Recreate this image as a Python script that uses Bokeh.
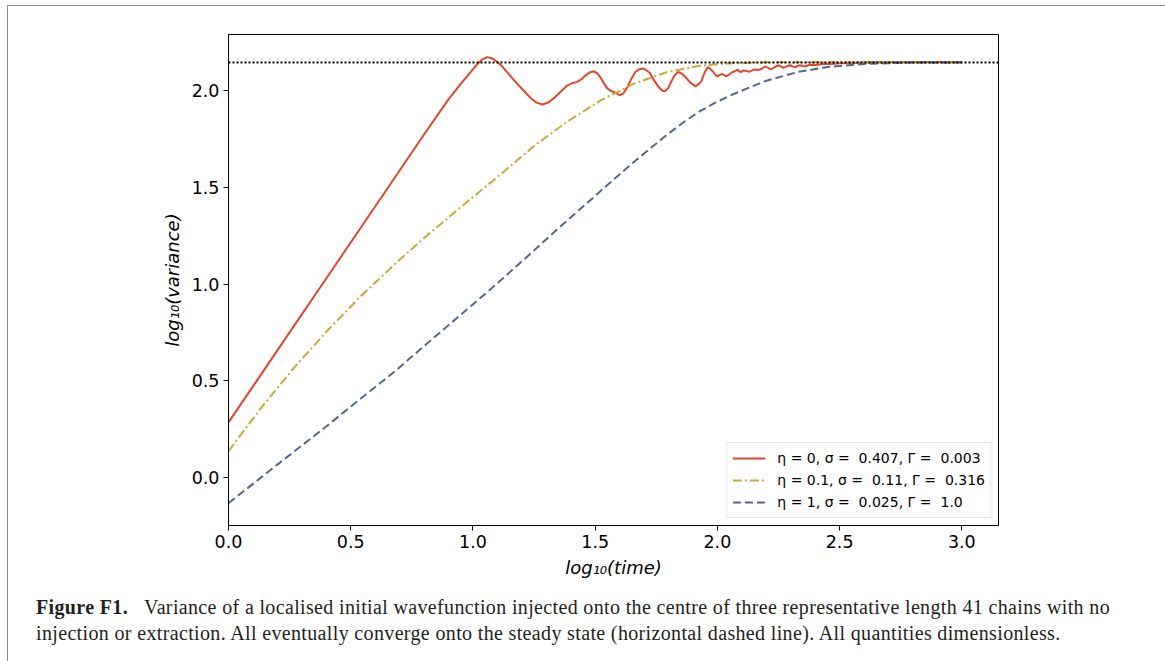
from bokeh.plotting import figure
from bokeh.models import Span, Legend, LegendItem, FixedTicker, PrintfTickFormatter, Div, Range1d
from bokeh.layouts import column
from bokeh.embed import file_html
from bokeh.resources import INLINE

# ---------------- data ----------------
red_x = [0.00, 0.10, 0.20, 0.30, 0.40, 0.50, 0.60, 0.70, 0.80, 0.90, 0.95, 0.98, 1.00, 1.02,
         1.04, 1.06, 1.08, 1.10, 1.116, 1.15, 1.184, 1.215, 1.238, 1.26, 1.285, 1.31, 1.332,
         1.36, 1.386, 1.41,
         1.427, 1.445, 1.461, 1.478, 1.494, 1.508, 1.521, 1.535, 1.548, 1.562, 1.576, 1.60,
         1.615, 1.63, 1.647, 1.664, 1.68, 1.697, 1.71, 1.724, 1.74, 1.758, 1.772, 1.785, 1.80,
         1.812, 1.825, 1.839, 1.855, 1.873, 1.89, 1.911, 1.925, 1.934, 1.947, 1.961, 1.971,
         1.981, 1.991, 2.001, 2.011, 2.021, 2.030, 2.038, 2.050, 2.062, 2.072, 2.082, 2.089,
         2.096, 2.106, 2.116, 2.126, 2.136, 2.147, 2.157, 2.167, 2.177, 2.187, 2.197, 2.208,
         2.218, 2.235, 2.251, 2.261, 2.271, 2.285, 2.298, 2.309, 2.319, 2.329, 2.339, 2.349,
         2.359, 2.38, 2.40, 2.43, 2.46, 2.50, 2.55, 2.60, 2.70, 2.80, 3.00]
red_y = [0.285, 0.471, 0.657, 0.843, 1.029, 1.215, 1.401, 1.587, 1.773, 1.955, 2.035, 2.080,
         2.110, 2.140, 2.163, 2.173, 2.166, 2.148, 2.130, 2.080, 2.031, 1.990, 1.959, 1.938,
         1.928, 1.940, 1.962, 1.995, 2.027, 2.040,
         2.045, 2.060, 2.079, 2.094, 2.100, 2.090, 2.069, 2.040, 2.014,
         2.000, 1.993, 1.976, 1.985, 2.014, 2.058, 2.096, 2.110, 2.114, 2.105, 2.091, 2.055,
         2.022, 2.002, 1.996, 2.015, 2.048, 2.078, 2.096, 2.088, 2.065, 2.040, 2.022, 2.035,
         2.048, 2.091, 2.122, 2.112, 2.100, 2.082, 2.074, 2.082, 2.086, 2.078, 2.074, 2.086,
         2.096, 2.100, 2.109, 2.100, 2.096, 2.104, 2.103, 2.098, 2.100, 2.108, 2.109, 2.106,
         2.110, 2.118, 2.126, 2.117, 2.109, 2.122, 2.131, 2.124, 2.117, 2.126, 2.131, 2.124,
         2.122, 2.128, 2.131, 2.127, 2.126, 2.134, 2.132, 2.138, 2.137, 2.142, 2.143, 2.145,
         2.146, 2.146, 2.146]

yellow_x = [0.0, 0.135, 0.27, 0.405, 0.54, 0.676, 0.811, 0.946, 1.031, 1.116, 1.251, 1.386,
            1.521, 1.657, 1.792, 1.927, 2.062, 2.20, 2.50, 3.00]
yellow_y = [0.136, 0.363, 0.570, 0.760, 0.935, 1.098, 1.250, 1.393, 1.482, 1.570, 1.715, 1.840,
            1.948, 2.035, 2.095, 2.128, 2.142, 2.146, 2.147, 2.146]

blue_x = [0.0, 0.135, 0.27, 0.405, 0.54, 0.676, 0.811, 0.946, 1.081, 1.216, 1.351, 1.486,
          1.521, 1.657, 1.792, 1.86, 1.927, 1.995, 2.062, 2.197, 2.332, 2.452, 2.60, 2.80, 3.00]
blue_y = [-0.133, 0.002, 0.136, 0.269, 0.407, 0.544, 0.691, 0.837, 0.983, 1.135, 1.290, 1.440,
          1.480, 1.630, 1.770, 1.835, 1.892, 1.940, 1.980, 2.050, 2.097, 2.122, 2.138, 2.145,
          2.146]

steady_state = 2.145

series_labels = ["η = 0, σ =  0.407, Γ =  0.003",
                 "η = 0.1, σ =  0.11, Γ =  0.316",
                 "η = 1, σ =  0.025, Γ =  1.0"]

x_ticks = [0.0, 0.5, 1.0, 1.5, 2.0, 2.5, 3.0]
y_ticks = [0.0, 0.5, 1.0, 1.5, 2.0]

x_label = "log₁₀(time)"
y_label = "log₁₀(variance)"

caption_bold = "Figure F1."
caption_line1 = ("Variance of a localised initial wavefunction injected onto the centre of three "
                 "representative length 41 chains with no")
caption_line2 = ("injection or extraction. All eventually converge onto the steady state "
                 "(horizontal dashed line). All quantities dimensionless.")

# ---------------- figure ----------------
p = figure(width=1149, height=579,
           x_range=Range1d(0.0, 3.15), y_range=Range1d(-0.248, 2.29),
           output_backend="svg", toolbar_location=None,
           min_border_left=220, min_border_right=159,
           min_border_top=28, min_border_bottom=60)

p.background_fill_color = "white"
p.border_fill_color = "white"
p.outline_line_color = "black"
p.outline_line_width = 1
p.xgrid.visible = False
p.ygrid.visible = False

r_red = p.line(red_x, red_y, line_color="#e1462f", line_width=2)
r_yel = p.line(yellow_x, yellow_y, line_color="#c8aa3a", line_width=2, line_dash="9 3 2 3")
r_blu = p.line(blue_x, blue_y, line_color="#57668a", line_width=2, line_dash="8 4")

p.add_layout(Span(location=steady_state, dimension="width", line_color="black",
                  line_width=2, line_dash="2 2"))

for ax, ticks in ((p.xaxis[0], x_ticks), (p.yaxis[0], y_ticks)):
    ax.ticker = FixedTicker(ticks=ticks)
    ax.formatter = PrintfTickFormatter(format="%.1f")
    ax.major_tick_out = 5
    ax.major_tick_in = 0
    ax.minor_tick_out = 0
    ax.minor_tick_in = 0
    ax.axis_line_color = "black"
    ax.major_tick_line_color = "black"
    ax.major_label_text_font = "DejaVu Sans"
    ax.major_label_text_font_size = "17.5px"
    ax.major_label_text_color = "black"
    ax.major_label_standoff = 4
    ax.axis_label_text_font = "DejaVu Sans"
    ax.axis_label_text_font_size = "18px"
    ax.axis_label_text_font_style = "italic"
    ax.axis_label_text_color = "black"
    ax.axis_label_standoff = 6

p.xaxis.axis_label = x_label
p.yaxis.axis_label = y_label

legend = Legend(items=[LegendItem(label=series_labels[0], renderers=[r_red]),
                       LegendItem(label=series_labels[1], renderers=[r_yel]),
                       LegendItem(label=series_labels[2], renderers=[r_blu])],
                location="bottom_right")
legend.margin = 7
legend.padding = 5
legend.spacing = 2
legend.glyph_width = 33
legend.glyph_height = 20
legend.label_height = 20
legend.label_standoff = 12
legend.label_text_font = "DejaVu Sans"
legend.label_text_font_size = "14px"
legend.label_text_color = "black"
legend.border_line_color = "#cccccc"
legend.border_line_width = 1
legend.background_fill_color = "white"
legend.background_fill_alpha = 0.85
p.add_layout(legend)

caption_html = (
    '<div style="font-family:\'Liberation Serif\', serif; font-size:20px; line-height:26px; '
    'letter-spacing:0.35px; color:#231f20; padding:4px 0 0 23px; white-space:nowrap;">'
    '<b>' + caption_bold + '</b>&nbsp;&nbsp;&nbsp;' + caption_line1 + '<br>' + caption_line2 +
    '</div>'
)
caption = Div(text=caption_html, width=1149, height=70)

layout = column(p, caption, spacing=0,
                styles={"margin-left": "7px", "margin-top": "5px",
                        "border-top": "1px solid #8a8a8a",
                        "border-left": "1px solid #8a8a8a",
                        "border-right": "3px solid #8a8a8a"})

open("out.html", "w").write(file_html(layout, INLINE))
